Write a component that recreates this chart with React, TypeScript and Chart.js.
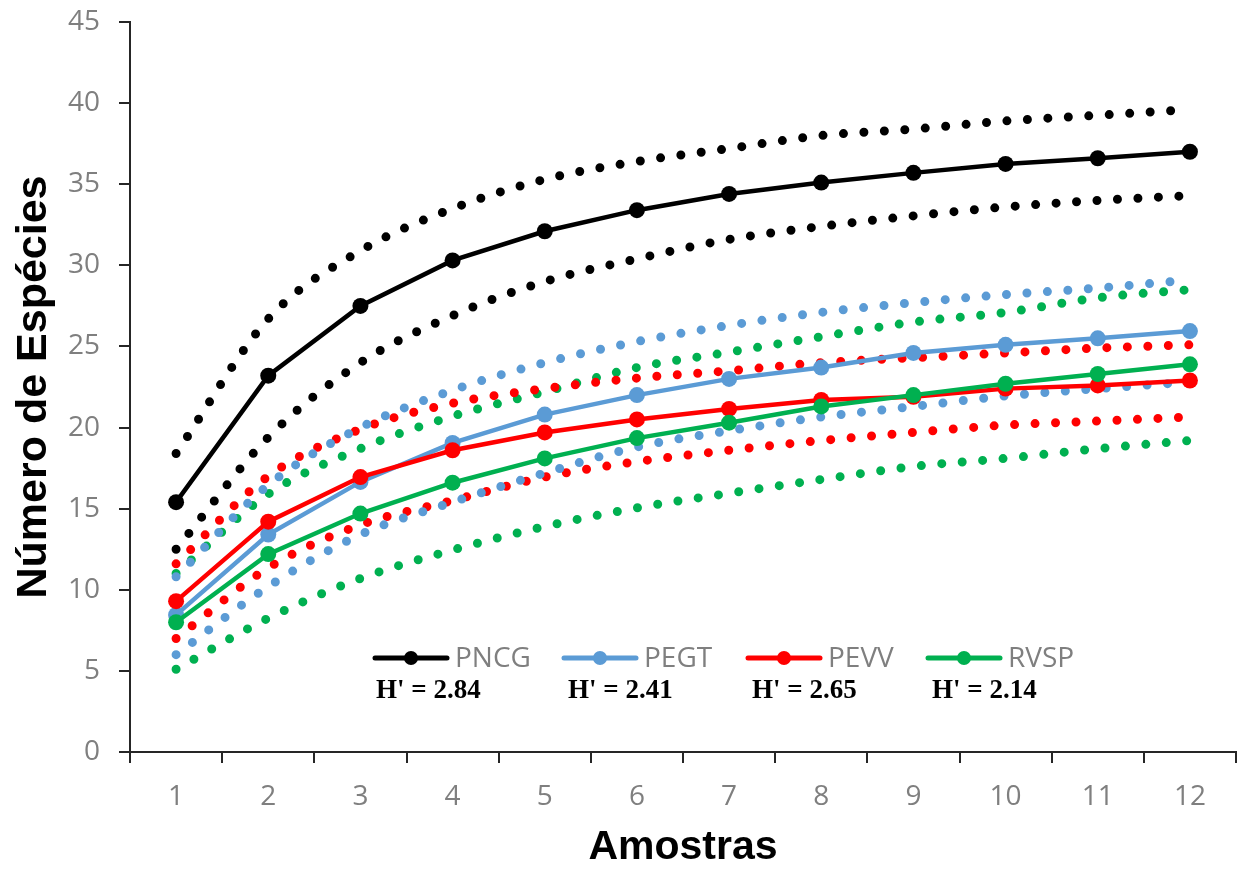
import React, { useEffect, useRef } from 'react';
import { Chart, registerables } from 'chart.js';

Chart.register(...registerables);

// ---------- data ----------
const categories = ['1', '2', '3', '4', '5', '6', '7', '8', '9', '10', '11', '12'];
const yTicks = [0, 5, 10, 15, 20, 25, 30, 35, 40, 45];
const seriesNames = ['PNCG', 'PEGT', 'PEVV', 'RVSP'];
const seriesColors = ['#000000', '#5B9BD5', '#FF0000', '#00B050'];
const diversityLabels = ["H' = 2.84", "H' = 2.41", "H' = 2.65", "H' = 2.14"];

const pncg = [15.4, 23.2, 27.5, 30.3, 32.1, 33.4, 34.4, 35.1, 35.7, 36.25, 36.6, 37.0];
const pncgUpper = [18.4, 26.7, 30.9, 33.5, 35.3, 36.4, 37.2, 38.0, 38.4, 38.9, 39.25, 39.6];
const pncgLower = [12.5, 19.4, 24.0, 26.9, 29.0, 30.4, 31.6, 32.4, 33.05, 33.6, 34.0, 34.3];

const pegt = [8.45, 13.4, 16.65, 19.05, 20.8, 22.0, 23.0, 23.7, 24.6, 25.1, 25.5, 25.95];
const pegtUpper = [10.8, 16.45, 20.0, 22.3, 24.0, 25.3, 26.3, 27.1, 27.7, 28.2, 28.6, 29.1];
const pegtLower = [6.0, 10.2, 13.4, 15.4, 17.2, 18.8, 19.8, 20.65, 21.3, 21.95, 22.4, 22.8];

const pevv = [9.3, 14.2, 16.95, 18.6, 19.7, 20.5, 21.15, 21.7, 21.9, 22.4, 22.6, 22.9];
const pevvUpper = [11.6, 17.0, 19.9, 21.5, 22.4, 23.05, 23.5, 24.0, 24.3, 24.6, 24.9, 25.1];
const pevvLower = [7.0, 11.35, 14.0, 15.5, 16.95, 17.9, 18.6, 19.2, 19.7, 20.15, 20.4, 20.65];

const rvsp = [8.0, 12.2, 14.7, 16.6, 18.1, 19.35, 20.3, 21.3, 22.0, 22.7, 23.3, 23.9];
const rvspUpper = [11.0, 15.9, 18.7, 20.7, 22.2, 23.7, 24.65, 25.6, 26.5, 27.1, 28.0, 28.5];
const rvspLower = [5.1, 8.25, 10.7, 12.45, 13.9, 15.05, 15.95, 16.8, 17.6, 18.1, 18.7, 19.2];

const mainSeries = [pncg, pegt, pevv, rvsp];
const upperSeries = [pncgUpper, pegtUpper, pevvUpper, rvspUpper];
const lowerSeries = [pncgLower, pegtLower, pevvLower, rvspLower];

// ---------- legend layout ----------
const LEGEND_X = [375, 564, 748, 928];
const LEGEND_LINE = 72;
const LEGEND_Y = 658;
const H_Y = 691;

const innerLegend = {
  id: 'innerLegend',
  afterDraw(chart: any) {
    const ctx = chart.ctx as CanvasRenderingContext2D;
    ctx.save();
    seriesNames.forEach((name, i) => {
      const x = LEGEND_X[i];
      ctx.strokeStyle = seriesColors[i];
      ctx.lineWidth = 5;
      ctx.lineCap = 'round';
      ctx.beginPath();
      ctx.moveTo(x, LEGEND_Y);
      ctx.lineTo(x + LEGEND_LINE, LEGEND_Y);
      ctx.stroke();
      ctx.fillStyle = seriesColors[i];
      ctx.beginPath();
      ctx.arc(x + LEGEND_LINE / 2, LEGEND_Y, 7, 0, Math.PI * 2);
      ctx.fill();
      ctx.fillStyle = '#7f7f7f';
      ctx.font = '28px "Open Sans"';
      ctx.textAlign = 'left';
      ctx.textBaseline = 'middle';
      ctx.fillText(name, x + LEGEND_LINE + 8, LEGEND_Y + 1);
      ctx.fillStyle = '#000000';
      ctx.font = 'bold 27px "Liberation Serif"';
      ctx.fillText(diversityLabels[i], x + (i === 0 ? 1 : 4), H_Y);
    });
    ctx.restore();
  },
};

export default function App() {
  const ref = useRef<HTMLCanvasElement | null>(null);

  useEffect(() => {
    if (!ref.current) return;
    const datasets: any[] = [];
    mainSeries.forEach((data, i) => {
      datasets.push({
        label: seriesNames[i],
        data,
        borderColor: seriesColors[i],
        backgroundColor: seriesColors[i],
        borderWidth: 4.5,
        pointRadius: 8,
        pointBorderWidth: 0,
        pointBackgroundColor: seriesColors[i],
        tension: 0,
        order: 4 - i,
      });
    });
    [upperSeries, lowerSeries].forEach((group, g) => {
      group.forEach((data, i) => {
        datasets.push({
          label: seriesNames[i] + (g === 0 ? ' sup' : ' inf'),
          data,
          borderColor: seriesColors[i],
          borderWidth: 9,
          borderDash: [0, 20.5],
          borderCapStyle: 'round',
          pointRadius: 0,
          cubicInterpolationMode: 'monotone',
          order: 10,
        });
      });
    });

    const chart = new Chart(ref.current, {
      type: 'line',
      data: { labels: categories, datasets },
      options: {
        animation: false,
        responsive: false,
        layout: { padding: { top: 22, right: 0, left: 0, bottom: 0 } },
        plugins: { legend: { display: false }, tooltip: { enabled: false } },
        scales: {
          x: {
            type: 'category',
            offset: true,
            grid: {
              offset: true,
              drawOnChartArea: false,
              drawTicks: true,
              tickLength: 11,
              color: '#262626',
              lineWidth: 2,
            },
            border: { display: true, color: '#262626', width: 2 },
            ticks: {
              color: '#7f7f7f',
              font: { family: '"Open Sans"', size: 28 },
              padding: 17,
              maxRotation: 0,
              autoSkip: false,
            },
            title: {
              display: true,
              text: 'Amostras',
              color: '#000000',
              font: { family: '"Liberation Sans", Arial', size: 41, weight: 'bold', lineHeight: 1 },
              padding: { top: 0, bottom: 1 },
            },
            afterFit: (s: any) => {
              s.height = 117;
              s.paddingLeft = 0;
              s.paddingRight = 0;
            },
          },
          y: {
            min: 0,
            max: 45,
            afterBuildTicks: (s: any) => {
              s.ticks = yTicks.map((v) => ({ value: v }));
            },
            grid: {
              drawOnChartArea: false,
              drawTicks: true,
              tickLength: 11,
              color: '#262626',
              lineWidth: 2,
            },
            border: { display: true, color: '#262626', width: 2 },
            ticks: {
              color: '#7f7f7f',
              font: { family: '"Open Sans"', size: 28 },
              padding: 19,
            },
            title: {
              display: true,
              text: 'Número de Espécies',
              color: '#000000',
              font: { family: '"Liberation Sans", Arial', size: 43, weight: 'bold', lineHeight: 1 },
              padding: { top: 13, bottom: 0 },
            },
            afterFit: (s: any) => {
              s.width = 130;
              s.paddingTop = 0;
              s.paddingBottom = 0;
            },
          },
        },
      },
      plugins: [innerLegend],
    });
    return () => chart.destroy();
  }, []);

  return (
    <div style={{ position: 'absolute', left: 0, top: 0, width: 1244, height: 869, background: '#ffffff' }}>
      <canvas ref={ref} width={1244} height={869} style={{ display: 'block' }} />
    </div>
  );
}
